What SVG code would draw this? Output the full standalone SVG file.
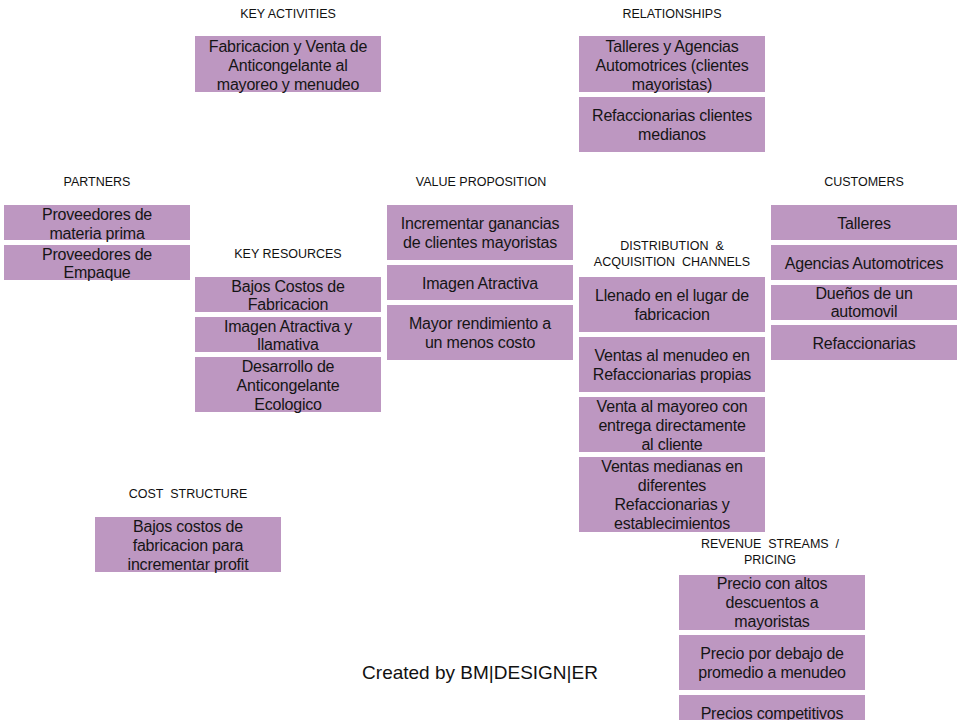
<svg xmlns="http://www.w3.org/2000/svg" width="960" height="720" viewBox="0 0 960 720">
<style>
.b{fill:#bd97c1}
.h{font-family:"Liberation Sans",Arial,sans-serif;font-size:12.5px;fill:#111;text-anchor:middle}
.t{font-family:"Liberation Sans",Arial,sans-serif;font-size:16px;letter-spacing:-0.2px;fill:#151515;text-anchor:middle;dominant-baseline:central}
.c{font-family:"Liberation Sans",Arial,sans-serif;font-size:19px;fill:#111;text-anchor:middle}
</style>
<rect width="960" height="720" fill="#fff"/>
<g id="labels">
<text class="h" x="288" y="18">KEY ACTIVITIES</text>
<text class="h" x="672" y="18">RELATIONSHIPS</text>
<text class="h" x="97" y="186">PARTNERS</text>
<text class="h" x="481" y="186">VALUE PROPOSITION</text>
<text class="h" x="864" y="186">CUSTOMERS</text>
<text class="h" x="288" y="258">KEY RESOURCES</text>
<text class="h" x="672" y="250" xml:space="preserve">DISTRIBUTION  &amp;</text>
<text class="h" x="672" y="266" xml:space="preserve">ACQUISITION  CHANNELS</text>
<text class="h" x="188" y="498" xml:space="preserve">COST  STRUCTURE</text>
<text class="h" x="770" y="548" xml:space="preserve">REVENUE  STREAMS  /</text>
<text class="h" x="770" y="564">PRICING</text>
</g>
<g id="ka1"><rect class="b" x="195" y="36" width="186" height="56"/><text class="t" x="288" y="46">Fabricacion y Venta de</text><text class="t" x="288" y="65">Anticongelante al</text><text class="t" x="288" y="84">mayoreo y menudeo</text></g>
<g id="rel1"><rect class="b" x="579" y="36" width="186" height="56"/><text class="t" x="672" y="46">Talleres y Agencias</text><text class="t" x="672" y="65">Automotrices (clientes</text><text class="t" x="672" y="84">mayoristas)</text></g>
<g id="rel2"><rect class="b" x="579" y="97" width="186" height="55"/><text class="t" x="672" y="115">Refaccionarias clientes</text><text class="t" x="672" y="134">medianos</text></g>
<g id="p1"><rect class="b" x="4" y="205" width="186" height="35"/><text class="t" x="97" y="214">Proveedores de</text><text class="t" x="97" y="233">materia prima</text></g>
<g id="p2"><rect class="b" x="4" y="245" width="186" height="35"/><text class="t" x="97" y="254">Proveedores de</text><text class="t" x="97" y="272">Empaque</text></g>
<g id="kr1"><rect class="b" x="195" y="277" width="186" height="35"/><text class="t" x="288" y="286">Bajos Costos de</text><text class="t" x="288" y="304">Fabricacion</text></g>
<g id="kr2"><rect class="b" x="195" y="317" width="186" height="35"/><text class="t" x="288" y="326">Imagen Atractiva y</text><text class="t" x="288" y="344">llamativa</text></g>
<g id="kr3"><rect class="b" x="195" y="357" width="186" height="55"/><text class="t" x="288" y="366">Desarrollo de</text><text class="t" x="288" y="385">Anticongelante</text><text class="t" x="288" y="404">Ecologico</text></g>
<g id="vp1"><rect class="b" x="387" y="205" width="186" height="55"/><text class="t" x="480" y="223">Incrementar ganancias</text><text class="t" x="480" y="242">de clientes mayoristas</text></g>
<g id="vp2"><rect class="b" x="387" y="265" width="186" height="35"/><text class="t" x="480" y="283">Imagen Atractiva</text></g>
<g id="vp3"><rect class="b" x="387" y="305" width="186" height="55"/><text class="t" x="480" y="323">Mayor rendimiento a</text><text class="t" x="480" y="342">un menos costo</text></g>
<g id="dc1"><rect class="b" x="579" y="277" width="186" height="55"/><text class="t" x="672" y="295">Llenado en el lugar de</text><text class="t" x="672" y="314">fabricacion</text></g>
<g id="dc2"><rect class="b" x="579" y="337" width="186" height="55"/><text class="t" x="672" y="355">Ventas al menudeo en</text><text class="t" x="672" y="374">Refaccionarias propias</text></g>
<g id="dc3"><rect class="b" x="579" y="397" width="186" height="55"/><text class="t" x="672" y="406">Venta al mayoreo con</text><text class="t" x="672" y="425">entrega directamente</text><text class="t" x="672" y="444">al cliente</text></g>
<g id="dc4"><rect class="b" x="579" y="457" width="186" height="75"/><text class="t" x="672" y="466">Ventas medianas en</text><text class="t" x="672" y="485">diferentes</text><text class="t" x="672" y="504">Refaccionarias y</text><text class="t" x="672" y="523">establecimientos</text></g>
<g id="cu1"><rect class="b" x="771" y="205" width="186" height="35"/><text class="t" x="864" y="223">Talleres</text></g>
<g id="cu2"><rect class="b" x="771" y="245" width="186" height="35"/><text class="t" x="864" y="263">Agencias Automotrices</text></g>
<g id="cu3"><rect class="b" x="771" y="285" width="186" height="35"/><text class="t" x="864" y="293">Dueños de un</text><text class="t" x="864" y="311">automovil</text></g>
<g id="cu4"><rect class="b" x="771" y="325" width="186" height="35"/><text class="t" x="864" y="343">Refaccionarias</text></g>
<g id="cs1"><rect class="b" x="95" y="517" width="186" height="55"/><text class="t" x="188" y="526">Bajos costos de</text><text class="t" x="188" y="545">fabricacion para</text><text class="t" x="188" y="564">incrementar profit</text></g>
<g id="rs1"><rect class="b" x="679" y="575" width="186" height="55"/><text class="t" x="772" y="583">Precio con altos</text><text class="t" x="772" y="602">descuentos a</text><text class="t" x="772" y="621">mayoristas</text></g>
<g id="rs2"><rect class="b" x="679" y="635" width="186" height="55"/><text class="t" x="772" y="653">Precio por debajo de</text><text class="t" x="772" y="672">promedio a menudeo</text></g>
<g id="rs3"><rect class="b" x="679" y="695" width="186" height="30"/><text class="t" x="772" y="713">Precios competitivos</text></g>
<g id="connectors"></g>
<text class="c" x="480" y="679">Created by BM|DESIGN|ER</text>
</svg>
